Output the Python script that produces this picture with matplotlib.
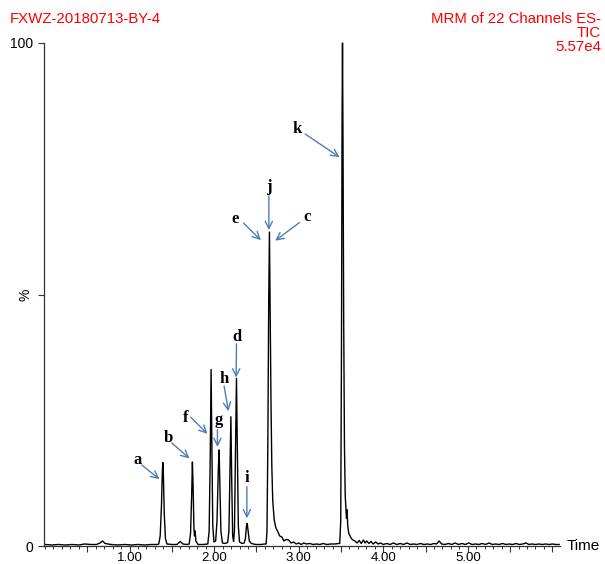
import matplotlib
matplotlib.use('Agg')
import matplotlib.pyplot as plt
from matplotlib.ticker import MultipleLocator, FixedLocator

plt.rcParams['font.family'] = ['Liberation Sans', 'DejaVu Sans']

# chromatogram trace (time in min, relative intensity in %)
time = [0.00, 0.08, 0.16, 0.24, 0.32, 0.40, 0.47, 0.54, 0.61, 0.65, 0.68, 0.71, 0.78, 0.86, 0.94,
        1.02, 1.10, 1.18, 1.26, 1.33,
        1.345, 1.362, 1.377, 1.387, 1.393, 1.400, 1.410, 1.424, 1.442,
        1.50, 1.56, 1.60, 1.63, 1.68,
        1.705, 1.721, 1.734, 1.743, 1.751, 1.761, 1.768, 1.775, 1.784, 1.81, 1.87,
        1.925, 1.941, 1.954, 1.964, 1.973, 1.984, 1.998,
        2.018, 2.034, 2.049, 2.059, 2.068, 2.080, 2.098, 2.13,
        2.160, 2.175, 2.188, 2.198, 2.207, 2.219, 2.230,
        2.240, 2.253, 2.264, 2.274, 2.286, 2.300, 2.33,
        2.355, 2.370, 2.381, 2.391, 2.402, 2.416, 2.44, 2.49, 2.55, 2.60,
        2.615, 2.625, 2.635, 2.645, 2.654, 2.663, 2.672, 2.682, 2.693, 2.710, 2.730, 2.755,
        2.775, 2.800, 2.825, 2.850, 2.880, 2.910, 2.940, 2.970, 3.000, 3.030, 3.060, 3.090,
        3.130, 3.170, 3.210, 3.250, 3.290, 3.330, 3.380, 3.430, 3.470,
        3.485, 3.497, 3.506, 3.513, 3.518, 3.524, 3.532, 3.541, 3.550, 3.558, 3.565, 3.572,
        3.580, 3.592, 3.607, 3.622, 3.640, 3.665, 3.690, 3.715, 3.740, 3.765, 3.785, 3.805,
        3.830, 3.855, 3.880, 3.910, 3.940, 3.97,
        4.00, 4.04, 4.08, 4.12, 4.16, 4.20, 4.24, 4.28, 4.32, 4.36, 4.40, 4.44, 4.48, 4.52,
        4.56, 4.60, 4.63, 4.66, 4.69, 4.73, 4.77, 4.81, 4.85, 4.89, 4.93, 4.97,
        5.01, 5.05, 5.09, 5.13, 5.17, 5.21, 5.25, 5.29, 5.33, 5.37, 5.41, 5.45, 5.49, 5.53,
        5.57, 5.61, 5.65, 5.69, 5.72, 5.76, 5.80, 5.84, 5.88, 5.92, 5.96, 6.00, 6.04, 6.08]
intensity = [0.3, 0.2, 0.3, 0.2, 0.3, 0.2, 0.4, 0.3, 0.3, 0.6, 1.0, 0.5, 0.3, 0.2, 0.3,
             0.2, 0.3, 0.2, 0.3, 0.3,
             0.4, 2.0, 8.0, 14.5, 16.6, 14.0, 6.5, 1.5, 0.4,
             0.3, 0.3, 0.9, 0.4, 0.3,
             0.4, 2.5, 10.0, 16.7, 12.0, 3.5, 2.0, 3.0, 1.0, 0.3, 0.3,
             0.4, 3.0, 18.0, 35.1, 20.0, 4.0, 0.8,
             1.0, 5.0, 15.0, 19.1, 12.0, 3.0, 0.6, 0.5,
             0.7, 3.0, 16.0, 25.7, 14.0, 2.0, 0.9,
             3.0, 20.0, 33.3, 20.0, 4.0, 0.8, 0.5,
             0.6, 1.5, 3.8, 4.5, 3.0, 1.0, 0.5, 0.3, 0.3, 0.4,
             0.4, 3.0, 20.0, 48.0, 62.4, 45.0, 29.0, 16.0, 9.0, 5.2, 3.6, 2.8,
             2.0, 1.8, 1.0, 1.3, 1.2, 0.6, 0.8, 0.4, 0.6, 0.3, 0.6, 0.4,
             0.5, 0.3, 0.4, 0.3, 0.5, 0.3, 0.4, 0.4, 0.5,
             0.5, 5.0, 40.0, 85.0, 100.0, 80.0, 45.0, 20.0, 10.0, 7.5, 5.5, 7.2,
             4.0, 2.5, 2.0, 1.5, 1.2, 1.0, 0.6, 1.1, 0.5, 1.2, 0.6, 1.0,
             0.5, 0.9, 0.4, 0.8, 0.4, 0.6,
             0.3, 0.5, 0.3, 0.6, 0.3, 0.5, 0.3, 0.6, 0.3, 0.4, 0.3, 0.5, 0.3, 0.4,
             0.3, 0.5, 0.4, 1.0, 0.4, 0.3, 0.5, 0.3, 0.6, 0.3, 0.5, 0.3,
             0.6, 0.3, 0.4, 0.3, 0.5, 0.3, 0.6, 0.3, 0.4, 0.3, 0.5, 0.3, 0.4, 0.3,
             0.5, 0.3, 0.4, 0.6, 0.3, 0.4, 0.3, 0.4, 0.3, 0.4, 0.3, 0.4, 0.3, 0.3]

# peak labels: letter, text position, arrow tail, arrow head (data coords)
peak_labels = ['a', 'b', 'f', 'g', 'h', 'd', 'i', 'j', 'e', 'c', 'k']
label_xy = [(1.092, 17.1), (1.459, 21.4), (1.669, 25.4), (2.059, 25.0), (2.115, 33.3),
            (2.264, 41.6), (2.387, 13.5), (2.647, 71.4), (2.249, 65.1), (3.097, 65.5),
            (2.986, 82.9)]
arrow_from = [(1.144, 16.1), (1.499, 20.5), (1.724, 25.6), (2.039, 23.1), (2.118, 31.8),
              (2.264, 40.2), (2.387, 11.8), (2.647, 69.6), (2.347, 64.2), (3.009, 64.3),
              (3.077, 81.9)]
arrow_to = [(1.353, 13.3), (1.708, 17.4), (1.921, 22.3), (2.039, 19.7), (2.169, 26.8),
            (2.260, 33.5), (2.387, 5.5), (2.647, 62.8), (2.553, 60.8), (2.722, 60.7),
            (3.483, 77.3)]

x_labels = ['1.00', '2.00', '3.00', '4.00', '5.00']
x_label_pos = [1, 2, 3, 4, 5]

W, H = 605, 564
fig = plt.figure(figsize=(W / 100, H / 100), dpi=100)
ax = fig.add_axes([44 / W, 1 - 546 / H, (560 - 44) / W, (546 - 43) / H])

ax.plot(time, intensity, color='black', lw=1.0, clip_on=False)

ax.set_xlim(-0.012, 6.09)
ax.set_ylim(0, 100)
for s in ['top', 'right']:
    ax.spines[s].set_visible(False)
for s in ['left', 'bottom']:
    ax.spines[s].set_linewidth(0.9)
    ax.spines[s].set_color('#333333')

# x ticks: long every 0.5, short every 0.1, labels on whole minutes
major = [0.5 * i for i in range(1, 13)]
ax.xaxis.set_major_locator(FixedLocator(major))
ax.xaxis.set_minor_locator(MultipleLocator(0.1))
ax.set_xticklabels([x_labels[x_label_pos.index(int(v))] if v == int(v) and int(v) in x_label_pos else ''
                    for v in major])
ax.tick_params(axis='x', which='major', length=4, width=0.8, labelsize=9.5, pad=0.5, color='#333333')
ax.tick_params(axis='x', which='minor', length=2.5, width=0.7, color='#333333')

# y ticks
ax.set_yticks([0, 50, 100])
ax.set_yticklabels(['0', '%', '100'])
ax.tick_params(axis='y', length=4, width=0.8, labelsize=10, pad=4, color='#333333')
ax.get_yticklabels()[1].set_rotation(90)
ax.get_yticklabels()[1].set_va('center')

fig.text(567 / W, 1 - 546 / H, 'Time', fontsize=11, ha='left', va='center')

red = '#FF0000'
fig.text(10 / W, 1 - 19 / H, 'FXWZ-20180713-BY-4', color=red, fontsize=10.8, ha='left', va='center')
fig.text(601 / W, 1 - 19 / H, 'MRM of 22 Channels ES-', color=red, fontsize=10.8, ha='right', va='center')
fig.text(601 / W, 1 - 33 / H, 'TIC', color=red, fontsize=10.8, ha='right', va='center')
fig.text(601 / W, 1 - 47 / H, '5.57e4', color=red, fontsize=10.8, ha='right', va='center')

blue = '#4A7EBB'
for lab, pos, a0, a1 in zip(peak_labels, label_xy, arrow_from, arrow_to):
    ax.text(pos[0], pos[1], lab, family=['Liberation Serif', 'DejaVu Serif'], fontweight='bold',
            fontsize=12, ha='center', va='center')
    ax.annotate('', xy=a1, xytext=a0,
                arrowprops=dict(arrowstyle='->', color=blue, lw=1.0, shrinkA=0, shrinkB=0,
                                mutation_scale=13))

fig.savefig('out.png', dpi=100)
